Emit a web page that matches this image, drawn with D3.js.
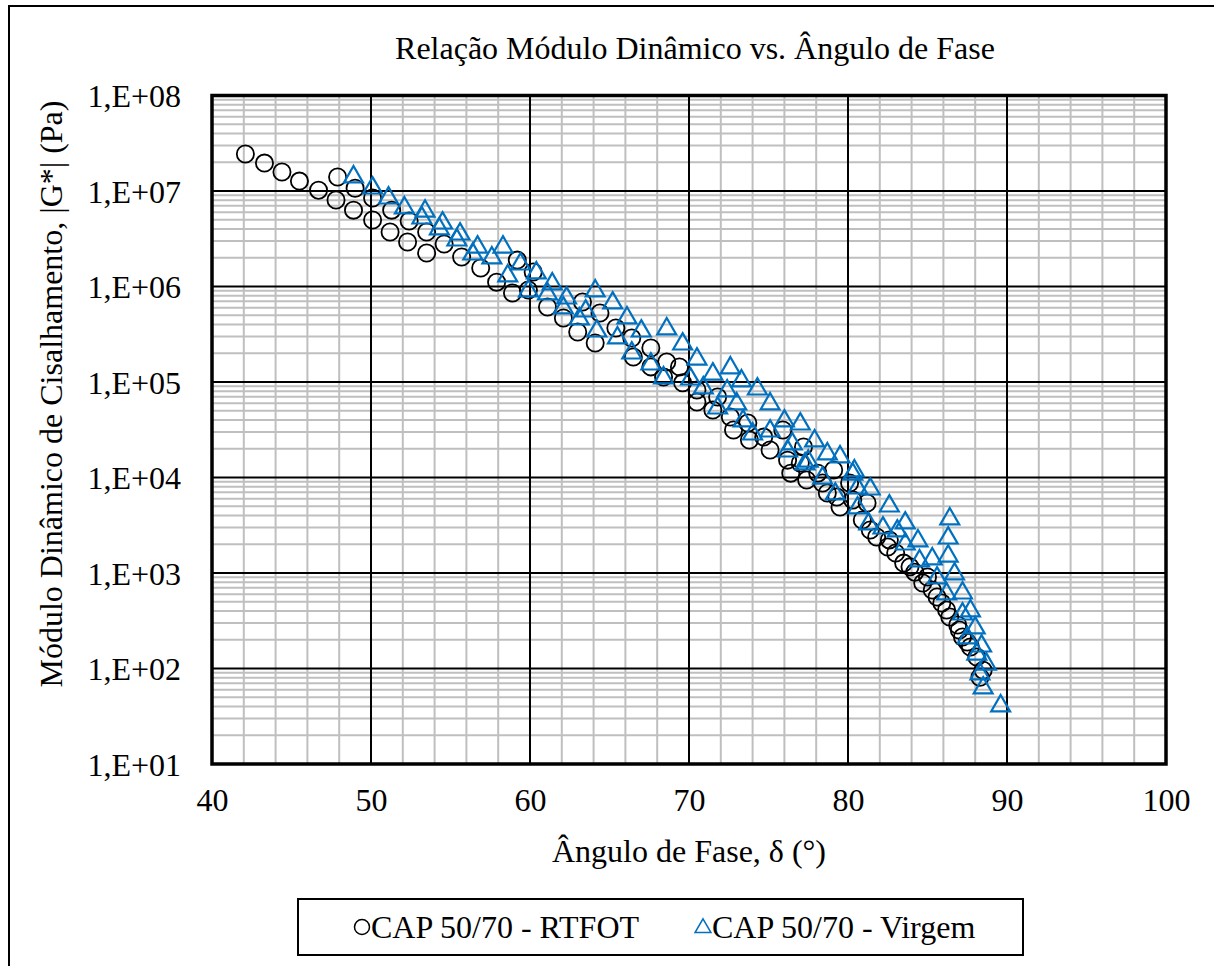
<!DOCTYPE html>
<html>
<head>
<meta charset="utf-8">
<script src="https://cdn.jsdelivr.net/npm/d3@7"></script>
<style>
  body { margin: 0; background: #fff; }
  svg { display: block; font-family: "Liberation Serif", "Times New Roman", serif; }
</style>
</head>
<body>
<div id="chart"></div>
<script>
// Phase angle (deg) and |G*| (Pa)
const rtfotAngle = [42.1, 43.3, 44.4, 45.5, 46.7, 47.8, 48.9, 50.1, 51.2, 52.3, 53.5,
  47.9, 49.0, 50.1, 51.3, 52.4, 53.5, 54.6, 55.7, 56.9, 57.9, 58.9, 59.2, 60.2, 59.9,
  61.1, 62.1, 63.0, 64.1, 63.3, 64.4, 65.4, 66.4, 66.5, 67.6, 67.6, 68.4, 68.6, 69.4,
  69.6, 70.5, 70.5, 71.5, 71.8, 72.6, 72.8, 73.8, 73.7, 74.7, 75.1, 75.9, 76.2, 77.0,
  77.2, 78.1, 79.1, 80.1, 77.4, 76.4, 78.4, 78.7, 79.3, 80.3, 79.5, 81.2, 80.9, 81.4,
  81.8, 82.5, 82.6, 83.0, 83.5, 83.9, 84.2, 84.7, 85.0, 85.3, 85.6, 85.9, 86.2, 86.4,
  86.9, 87.0, 87.2, 87.5, 87.7, 88.1, 88.5, 88.3];
const rtfotG = [2.44e7, 1.96e7, 1.58e7, 1.27e7, 1.02e7, 8.05e6, 6.3e6, 4.97e6, 3.72e6, 2.92e6, 2.24e6,
  1.40e7, 1.07e7, 8.45e6, 6.3e6, 4.85e6, 3.72e6, 2.79e6, 2.04e6, 1.56e6, 1.11e6, 8.55e5, 1.89e6, 1.42e6, 9.2e5,
  6.1e5, 4.68e5, 3.34e5, 2.56e5, 6.88e5, 5.28e5, 3.68e5, 2.89e5, 1.83e5, 2.27e5, 1.44e5, 1.13e5, 1.62e5, 1.44e5,
  9.8e4, 8.25e4, 6.18e4, 5.09e4, 6.97e4, 4.30e4, 3.14e4, 2.47e4, 3.72e4, 2.65e4, 1.94e4, 3.14e4, 1.52e4, 1.42e4,
  2.09e4, 1.11e4, 1.20e4, 8.76e3, 9.4e3, 1.11e4, 8.76e3, 6.88e3, 6.25e3, 5.81e3, 4.91e3, 5.41e3, 3.59e3, 2.82e3,
  2.38e3, 1.87e3, 2.22e3, 1.62e3, 1.27e3, 1.16e3, 1.02e3, 786, 908, 664, 561, 485, 410, 346,
  285, 253, 214, 189, 168, 132, 96, 81];

const virgemAngle = [48.9, 50.1, 51.1, 52.1, 53.4, 53.2, 54.5, 54.3, 55.6, 55.4, 56.7,
  56.4, 57.6, 58.3, 58.6, 59.4, 60.4, 59.9, 61.4, 61.1, 62.3, 62.1, 64.1, 63.1, 63.5,
  65.2, 64.2, 66.1, 65.5, 67.0, 66.4, 68.6, 67.6, 69.6, 68.4, 70.5, 70.1, 72.6, 71.5,
  70.9, 73.3, 72.4, 71.8, 74.3, 73.0, 75.1, 73.4, 75.1, 76.0, 77.0, 76.5, 77.9, 77.5,
  78.7, 79.5, 80.4, 78.4, 74.0, 76.2, 77.3, 79.2, 81.4, 80.6, 80.3, 80.6, 82.6, 81.3,
  83.6, 82.2, 83.1, 83.6, 84.4, 85.3, 84.5, 85.6, 86.2, 86.4, 86.3, 86.3, 86.7, 87.2,
  87.7, 87.2, 88.0, 87.5, 88.4, 88.1, 88.7, 88.3, 88.5, 89.6];
const virgemG = [1.44e7, 1.10e7, 8.65e6, 6.8e6, 6.3e6, 5.34e6, 4.73e6, 4.1e6, 3.63e6, 3.14e6, 2.65e6,
  2.24e6, 2.04e6, 2.65e6, 1.32e6, 1.76e6, 1.42e6, 9.2e5, 1.09e6, 8.55e5, 7.76e5, 6.1e5, 9.2e5, 4.68e5, 5.67e5,
  6.88e5, 3.5e5, 4.8e5, 2.96e5, 3.5e5, 2.06e5, 3.68e5, 1.58e5, 2.56e5, 1.13e5, 1.78e5, 1.10e5, 1.44e5, 1.24e5,
  8.87e4, 1.05e5, 8.25e4, 5.47e4, 8.65e4, 6.03e4, 6.03e4, 4.0e4, 3.14e4, 4.0e4, 3.72e4, 2.3e4, 2.47e4, 1.52e4,
  1.81e4, 1.68e4, 1.20e4, 1.01e4, 2.92e4, 1.94e4, 1.42e4, 6.88e3, 7.76e3, 7.95e3, 1.11e4, 4.91e3, 5.15e3, 3.34e3,
  3.42e3, 3.03e3, 2.82e3, 2.06e3, 2.22e3, 1.44e3, 1.37e3, 908, 618, 3.77e3, 2.38e3, 1.54e3, 1.0e3, 632,
  410, 381, 272, 214, 176, 145, 114, 90, 64, 41.5];

const xTicks = [40, 50, 60, 70, 80, 90, 100];
const yTicks = [1e1, 1e2, 1e3, 1e4, 1e5, 1e6, 1e7, 1e8];
const yTickLabels = ["1,E+01", "1,E+02", "1,E+03", "1,E+04", "1,E+05", "1,E+06", "1,E+07", "1,E+08"];
const seriesNames = ["CAP 50/70 - RTFOT", "CAP 50/70 - Virgem"];

const W = 1214, H = 966;
const plot = {left: 212, right: 1166, top: 95.5, bottom: 764};
const blue = "#0070c0";
const fs = "32px";

const svg = d3.select("#chart").append("svg")
    .attr("width", W)
    .attr("height", H);

// outer chart frame (right and bottom fall outside the picture)
svg.append("rect")
    .attr("x", 9).attr("y", 6)
    .attr("width", 1215).attr("height", 1000)
    .attr("fill", "none")
    .attr("stroke", "#000")
    .attr("stroke-width", 2);

const x = d3.scaleLinear().domain([40, 100]).range([plot.left, plot.right]);
const y = d3.scaleLog().domain([10, 1e8]).range([plot.bottom, plot.top]);

// minor grid
const xMinor = d3.range(42, 100, 2).filter(v => v % 10 !== 0);
const yMinor = [];
for (let k = 1; k < 8; k++) for (let m = 2; m <= 9; m++) yMinor.push(m * Math.pow(10, k));

const grid = svg.append("g");
grid.selectAll(".xminor").data(xMinor).enter().append("line")
    .attr("x1", d => x(d)).attr("x2", d => x(d))
    .attr("y1", plot.top).attr("y2", plot.bottom)
    .attr("stroke", "#bfbfbf").attr("stroke-width", 2);
grid.selectAll(".yminor").data(yMinor).enter().append("line")
    .attr("y1", d => y(d)).attr("y2", d => y(d))
    .attr("x1", plot.left).attr("x2", plot.right)
    .attr("stroke", "#bfbfbf").attr("stroke-width", 2);

// major grid
grid.selectAll(".xmajor").data(xTicks).enter().append("line")
    .attr("x1", d => x(d)).attr("x2", d => x(d))
    .attr("y1", plot.top).attr("y2", plot.bottom)
    .attr("stroke", "#000").attr("stroke-width", 2);
grid.selectAll(".ymajor").data(yTicks).enter().append("line")
    .attr("y1", d => y(d)).attr("y2", d => y(d))
    .attr("x1", plot.left).attr("x2", plot.right)
    .attr("stroke", "#000").attr("stroke-width", 2);

// plot area border
svg.append("rect")
    .attr("x", plot.left).attr("y", plot.top)
    .attr("width", plot.right - plot.left).attr("height", plot.bottom - plot.top)
    .attr("fill", "none").attr("stroke", "#000").attr("stroke-width", 3.5);

// data
const rtfot = rtfotAngle.map((a, i) => [a, rtfotG[i]]);
const virgem = virgemAngle.map((a, i) => [a, virgemG[i]]);

svg.append("g").selectAll("circle")
    .data(rtfot).enter().append("circle")
    .attr("cx", d => x(d[0]))
    .attr("cy", d => y(d[1]))
    .attr("r", 8.6)
    .attr("fill", "none")
    .attr("stroke", "#000")
    .attr("stroke-width", 1.8);

const tri = d3.symbol().type(d3.symbolTriangle).size(155);
svg.append("g").selectAll("path")
    .data(virgem).enter().append("path")
    .attr("d", tri)
    .attr("transform", d => "translate(" + x(d[0]) + "," + (y(d[1]) + 1) + ")")
    .attr("fill", "none")
    .attr("stroke", blue)
    .attr("stroke-width", 2.2);

// axes (labels only, Excel style)
const xAxis = d3.axisBottom(x).tickValues(xTicks).tickSize(0).tickPadding(0);
const gx = svg.append("g")
    .attr("transform", "translate(0," + plot.bottom + ")")
    .call(xAxis);
gx.select(".domain").remove();
gx.selectAll("text")
    .attr("dy", 0).attr("y", 47)
    .style("font-family", "Liberation Serif")
    .style("font-size", fs)
    .attr("fill", "#000");

const yAxis = d3.axisLeft(y).tickValues(yTicks).tickSize(0).tickPadding(0)
    .tickFormat((d, i) => yTickLabels[i]);
const gy = svg.append("g")
    .attr("transform", "translate(" + plot.left + ",0)")
    .call(yAxis);
gy.select(".domain").remove();
gy.selectAll("text")
    .attr("x", -31).attr("dy", "0.35em")
    .style("font-family", "Liberation Serif")
    .style("font-size", fs)
    .attr("fill", "#000");

// title
svg.append("text")
    .attr("x", 695).attr("y", 59)
    .attr("text-anchor", "middle")
    .style("font-size", fs)
    .text("Relação Módulo Dinâmico vs. Ângulo de Fase");

svg.append("text")
    .attr("x", 689).attr("y", 862)
    .attr("text-anchor", "middle")
    .style("font-size", fs)
    .text("Ângulo de Fase, δ (°)");

svg.append("text")
    .attr("transform", "translate(62,394) rotate(-90)")
    .attr("text-anchor", "middle")
    .style("font-size", fs)
    .text("Módulo Dinâmico de Cisalhamento, |G*| (Pa)");

// legend
const legend = svg.append("g");
legend.append("rect")
    .attr("x", 298).attr("y", 899)
    .attr("width", 725).attr("height", 56)
    .attr("fill", "#fff").attr("stroke", "#000").attr("stroke-width", 2);
legend.append("circle")
    .attr("cx", 362).attr("cy", 927).attr("r", 7.5)
    .attr("fill", "none").attr("stroke", "#000").attr("stroke-width", 1.5);
legend.append("text")
    .attr("x", 371).attr("y", 938)
    .style("font-size", fs)
    .text(seriesNames[0]);
legend.append("path")
    .attr("d", d3.symbol().type(d3.symbolTriangle).size(110))
    .attr("transform", "translate(703,928)")
    .attr("fill", "none").attr("stroke", blue).attr("stroke-width", 1.5);
legend.append("text")
    .attr("x", 712).attr("y", 938)
    .style("font-size", fs)
    .text(seriesNames[1]);
</script>
</body>
</html>
